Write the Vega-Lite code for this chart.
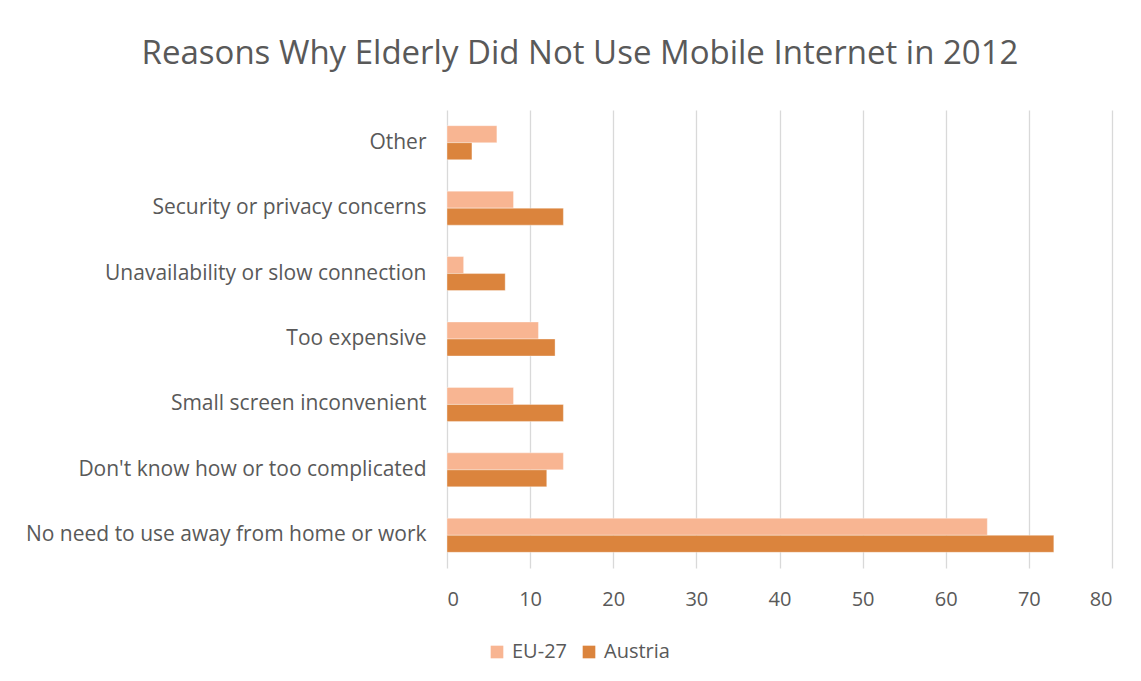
{
  "$schema": "https://vega.github.io/schema/vega-lite/v6.json",
  "width": 665,
  "height": 458,
  "padding": {"left": 0, "top": 38, "right": 29, "bottom": 20},
  "background": "white",
  "title": {
    "text": "Reasons Why Elderly Did Not Use Mobile Internet in 2012",
    "font": "Open Sans",
    "fontSize": 33,
    "fontWeight": "normal",
    "color": "#595959",
    "anchor": "middle",
    "frame": "bounds",
    "offset": 39,
    "dx": 24
  },
  "data": {
    "values": [
      {"reason": "Other", "series": "EU-27", "value": 6},
      {"reason": "Other", "series": "Austria", "value": 3},
      {"reason": "Security or privacy concerns", "series": "EU-27", "value": 8},
      {"reason": "Security or privacy concerns", "series": "Austria", "value": 14},
      {"reason": "Unavailability or slow connection", "series": "EU-27", "value": 2},
      {"reason": "Unavailability or slow connection", "series": "Austria", "value": 7},
      {"reason": "Too expensive", "series": "EU-27", "value": 11},
      {"reason": "Too expensive", "series": "Austria", "value": 13},
      {"reason": "Small screen inconvenient", "series": "EU-27", "value": 8},
      {"reason": "Small screen inconvenient", "series": "Austria", "value": 14},
      {"reason": "Don't know how or too complicated", "series": "EU-27", "value": 14},
      {"reason": "Don't know how or too complicated", "series": "Austria", "value": 12},
      {"reason": "No need to use away from home or work", "series": "EU-27", "value": 65},
      {"reason": "No need to use away from home or work", "series": "Austria", "value": 73}
    ]
  },
  "mark": {"type": "bar", "stroke": "#ffffff", "strokeWidth": 0.6, "strokeOpacity": 0.6},
  "encoding": {
    "y": {
      "field": "reason",
      "type": "nominal",
      "sort": ["Other", "Security or privacy concerns", "Unavailability or slow connection", "Too expensive", "Small screen inconvenient", "Don't know how or too complicated", "No need to use away from home or work"],
      "scale": {"paddingInner": 0.48, "paddingOuter": 0.24},
      "axis": {
        "title": null,
        "domain": false,
        "ticks": false,
        "labelPadding": 21,
        "minExtent": 447,
        "maxExtent": 447,
        "labelFont": "Open Sans",
        "labelFontSize": 21,
        "labelColor": "#595959",
        "labelLimit": 500
      }
    },
    "yOffset": {
      "field": "series",
      "type": "nominal",
      "sort": ["EU-27", "Austria"],
      "scale": {"paddingInner": 0, "paddingOuter": 0}
    },
    "x": {
      "field": "value",
      "type": "quantitative",
      "scale": {"domain": [0, 80], "nice": false},
      "axis": {
        "title": null,
        "values": [0, 10, 20, 30, 40, 50, 60, 70, 80],
        "domain": false,
        "ticks": false,
        "grid": true,
        "gridColor": "#D9D9D9",
        "gridWidth": 1.3,
        "labelPadding": 21,
        "labelFont": "Open Sans",
        "labelFontSize": 20,
        "labelColor": "#595959"
      }
    },
    "color": {
      "field": "series",
      "type": "nominal",
      "sort": ["EU-27", "Austria"],
      "scale": {"domain": ["EU-27", "Austria"], "range": ["#F8B592", "#DB843D"]},
      "legend": {
        "title": null,
        "orient": "none",
        "direction": "horizontal",
        "legendX": 40,
        "legendY": 532,
        "symbolType": "square",
        "symbolSize": 160,
        "symbolStrokeWidth": 0,
        "labelFont": "Open Sans",
        "labelFontSize": 20,
        "labelColor": "#595959",
        "columnPadding": 12,
        "labelOffset": 5
      }
    }
  },
  "config": {
    "view": {"stroke": null}
  }
}
